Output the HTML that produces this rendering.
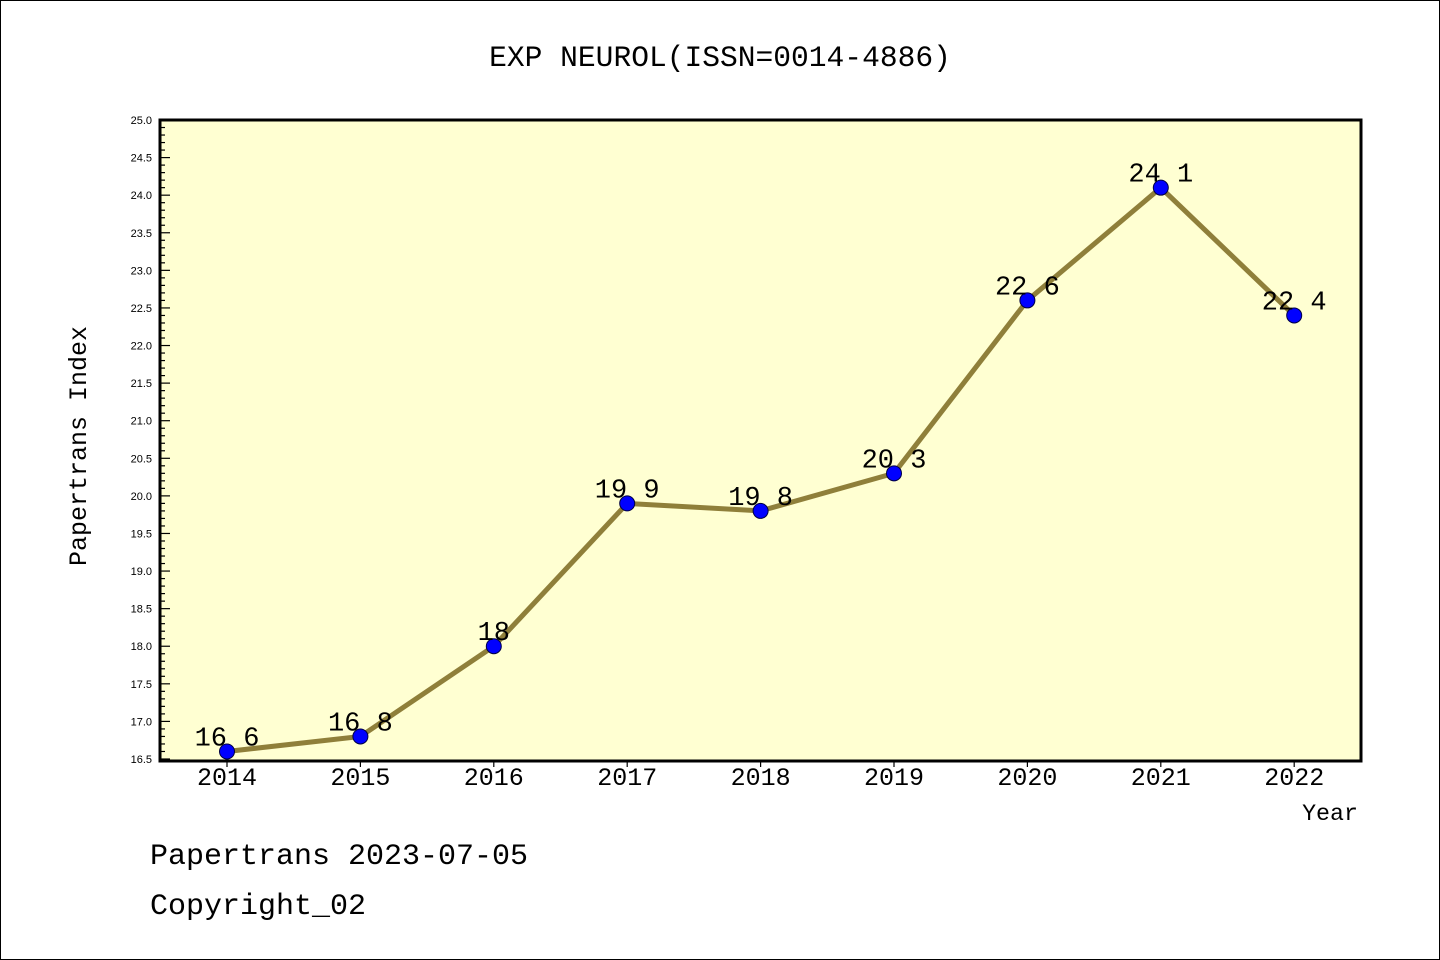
<!DOCTYPE html>
<html><head><meta charset="utf-8"><style>
body{margin:0;background:#fff;}
svg{display:block;font-family:"Liberation Sans",sans-serif;}
.m{font-family:"Liberation Mono",monospace;}
</style></head><body>
<svg id="chart" width="1440" height="960">
<rect x="0.5" y="0.5" width="1439" height="959" fill="#fff" stroke="#000"/>
<text class="m" x="720" y="66" text-anchor="middle" font-size="29.6">EXP NEUROL(ISSN=0014-4886)</text>
<rect x="160" y="120" width="1201" height="641" fill="#ffffd2"/>
<g id="yaxis"></g>
<g id="xaxis"></g>
<g id="series"></g>
<rect x="160" y="120" width="1201" height="641" fill="none" stroke="#000" stroke-width="3"/>
<text class="m" x="86" y="446" text-anchor="middle" font-size="25" transform="rotate(-90 86 446)">Papertrans Index</text>
<text class="m" x="1358" y="820" text-anchor="end" font-size="23.3">Year</text>
<text class="m" x="150" y="864" font-size="30">Papertrans 2023-07-05</text>
<text class="m" x="150" y="914" font-size="30">Copyright_02</text>
</svg>
<script>
const years = ["2014","2015","2016","2017","2018","2019","2020","2021","2022"];
const values = [16.6,16.8,18,19.9,19.8,20.3,22.6,24.1,22.4];
const valueLabels = ["16.6","16.8","18","19.9","19.8","20.3","22.6","24.1","22.4"];
const yMin = 16.5, yMax = 25.0;
const NS = "http://www.w3.org/2000/svg";
function y(v){return 120 + (yMax - v) / (yMax - yMin) * 639;}
function x(i){return 227 + i * 133.4;}
function mk(tag, attrs, parent){const e=document.createElementNS(NS,tag);for(const k in attrs)e.setAttribute(k,attrs[k]);parent.appendChild(e);return e;}
const ya = document.getElementById('yaxis');
for(let k=0;k<=85;k++){
  const v = yMin + k*0.1, yy = y(v), major = k%5===0;
  const t = mk('line',{x1:160,x2:160+(major?10:5),y1:yy,y2:yy,stroke:'#000','stroke-width':1.2},ya);
  
  
  if(major){
    const l = mk('text',{x:152,y:yy+4,'text-anchor':'end','font-size':11},ya);
    l.textContent = v.toFixed(1);
    
    
  }
}
const xa = document.getElementById('xaxis');
years.forEach((yr,i)=>{
  const t = mk('line',{x1:x(i),x2:x(i),y1:761,y2:767,stroke:'#000','stroke-width':1.2},xa);
  
  
  const l = mk('text',{x:x(i),y:785,'text-anchor':'middle','font-size':25,'class':'m'},xa);
  l.textContent = yr;
  
  
});
const s = document.getElementById('series');
const line = mk('polyline',{points:values.map((v,i)=>x(i)+','+y(v)).join(' '),fill:'none',stroke:'#8f7f3a','stroke-width':5},s);


values.forEach((v,i)=>{
  const c = mk('circle',{cx:x(i),cy:y(v),r:7.5,fill:'#0000ff',stroke:'#000044','stroke-width':1},s);
  
  
  const l = mk('text',{x:x(i),y:y(v)-6,'text-anchor':'middle','font-size':27,'class':'m'},s);
  l.textContent = valueLabels[i].replace('.', ' ');
  
  
});
</script>
</body></html>
